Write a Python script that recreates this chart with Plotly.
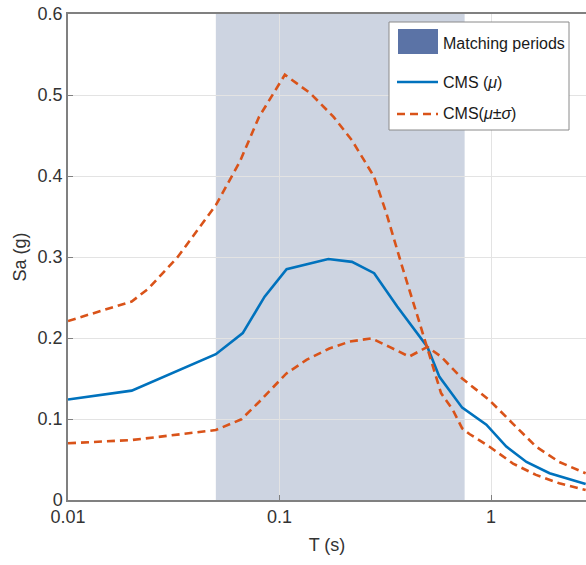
import plotly.graph_objects as go

# ---------------- data ----------------
T_mean = [0.01, 0.02, 0.05, 0.067, 0.085, 0.108, 0.17, 0.22, 0.28, 0.36,
          0.50, 0.57, 0.73, 0.95, 1.18, 1.47, 1.89, 2.8]
Sa_mean = [0.124, 0.135, 0.180, 0.206, 0.251, 0.285, 0.2975, 0.294, 0.280, 0.239,
           0.189, 0.152, 0.114, 0.093, 0.066, 0.047, 0.033, 0.0197]

T_upper = [0.01, 0.02, 0.024, 0.033, 0.05, 0.065, 0.08, 0.106, 0.14, 0.18,
           0.22, 0.28, 0.32, 0.38, 0.46, 0.53, 0.58, 0.66, 0.73, 0.79,
           0.98, 1.27, 1.63, 2.1, 2.8]
Sa_upper = [0.221, 0.245, 0.261, 0.300, 0.364, 0.418, 0.473, 0.525, 0.502, 0.473,
            0.444, 0.399, 0.354, 0.288, 0.218, 0.165, 0.132, 0.111, 0.0885, 0.0815,
            0.066, 0.045, 0.031, 0.0206, 0.0123]

T_lower = [0.01, 0.02, 0.05, 0.066, 0.08, 0.1075, 0.134, 0.172, 0.214, 0.272,
           0.331, 0.41, 0.50, 0.58, 0.73, 0.98, 1.27, 1.63, 2.1, 2.8]
Sa_lower = [0.070, 0.074, 0.0864, 0.0996, 0.121, 0.156, 0.173, 0.187, 0.1955, 0.1996,
            0.189, 0.177, 0.189, 0.177, 0.150, 0.1235, 0.094, 0.066, 0.047, 0.033]

MATCH_START, MATCH_END = 0.05, 0.75

x_ticks = [0.01, 0.1, 1]
x_ticklabels = ["0.01", "0.1", "1"]
y_ticks = [0, 0.1, 0.2, 0.3, 0.4, 0.5, 0.6]
y_ticklabels = ["0", "0.1", "0.2", "0.3", "0.4", "0.5", "0.6"]
X_MAX = 2.81

# ---------------- styles ----------------
BLUE = "#0072BD"
ORANGE = "#D95319"
SHADE = "rgba(88,112,155,0.30)"
SWATCH = "#5b73a6"
FONT = "Liberation Sans, Arial, sans-serif"
TXT = "#333333"
AX = "#808080"

W, H = 586, 565
L, R, T, B = 68, 0, 14, 65
PW, PH = W - L - R, H - T - B


def px(xp):
    return (xp - L) / PW


def py(yp):
    return (H - B - yp) / PH


fig = go.Figure()
fig.add_trace(go.Scatter(x=T_mean, y=Sa_mean, mode="lines",
                         line=dict(color=BLUE, width=2.6), name="CMS (μ)",
                         showlegend=False))
fig.add_trace(go.Scatter(x=T_upper, y=Sa_upper, mode="lines",
                         line=dict(color=ORANGE, width=2.6, dash="8px,5px"),
                         name="CMS(μ+σ)", showlegend=False))
fig.add_trace(go.Scatter(x=T_lower, y=Sa_lower, mode="lines",
                         line=dict(color=ORANGE, width=2.6, dash="8px,5px"),
                         name="CMS(μ-σ)", showlegend=False))

shapes = [
    dict(type="rect", xref="x", yref="paper", x0=MATCH_START, x1=MATCH_END,
         y0=0, y1=1, fillcolor=SHADE, line=dict(width=0), layer="below"),
    # legend box
    dict(type="rect", xref="paper", yref="paper", x0=px(389), x1=px(569),
         y0=py(130), y1=py(22), fillcolor="white",
         line=dict(color="#8a8a8a", width=1), layer="above"),
    dict(type="rect", xref="paper", yref="paper", x0=px(398), x1=px(438),
         y0=py(54), y1=py(29), fillcolor=SWATCH, line=dict(width=0), layer="above"),
    dict(type="line", xref="paper", yref="paper", x0=px(397), x1=px(438),
         y0=py(82), y1=py(82), line=dict(color=BLUE, width=2.6), layer="above"),
    dict(type="line", xref="paper", yref="paper", x0=px(397), x1=px(438),
         y0=py(114), y1=py(114), line=dict(color=ORANGE, width=2.6, dash="8px,5px"),
         layer="above"),
]

ann_font = dict(family=FONT, size=16, color="#1a1a1a")
annotations = [
    dict(xref="paper", yref="paper", x=px(441), y=py(43), text="Matching periods",
         showarrow=False, xanchor="left", yanchor="middle", font=ann_font),
    dict(xref="paper", yref="paper", x=px(441), y=py(82),
         text="CMS (<i>μ</i>)", showarrow=False, xanchor="left", yanchor="middle",
         font=ann_font),
    dict(xref="paper", yref="paper", x=px(441), y=py(114),
         text="CMS(<i>μ</i>±<i>σ</i>)", showarrow=False, xanchor="left",
         yanchor="middle", font=ann_font),
]

fig.update_layout(
    width=W, height=H,
    margin=dict(l=L, r=R, t=T, b=B, pad=0),
    paper_bgcolor="white", plot_bgcolor="white",
    font=dict(family=FONT, size=18, color=TXT),
    shapes=shapes, annotations=annotations,
    showlegend=False,
    xaxis=dict(type="log", range=[-2, __import__("math").log10(X_MAX)],
               tickvals=x_ticks, ticktext=x_ticklabels,
               showgrid=True, gridcolor="#e3e3e3", gridwidth=1,
               showline=True, linecolor=AX, linewidth=1.5, mirror=True,
               ticks="inside", ticklen=5, tickcolor=AX,
               zeroline=False, tickfont=dict(size=18, color=TXT),
               title=dict(text="T (s)", standoff=12, font=dict(size=18, color=TXT))),
    yaxis=dict(range=[0, 0.6], tickvals=y_ticks, ticktext=y_ticklabels,
               showgrid=True, gridcolor="#e3e3e3", gridwidth=1,
               showline=True, linecolor=AX, linewidth=1.5,
               ticks="inside", ticklen=5, tickcolor=AX,
               zeroline=False, tickfont=dict(size=18, color=TXT),
               title=dict(text="Sa (g)", standoff=6, font=dict(size=18, color=TXT))),
)

fig.write_html("out.html")
